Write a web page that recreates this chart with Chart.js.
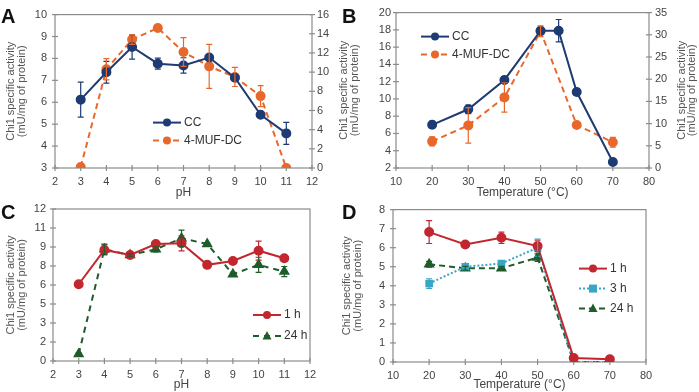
<!DOCTYPE html>
<html>
<head>
<meta charset="utf-8">
<script src="https://cdn.jsdelivr.net/npm/chart.js@4"></script>
<style>
  body { margin: 0; background: #fff; }
  #wrap { position: relative; width: 699px; height: 392px; overflow: hidden; }
  canvas { position: absolute; }
  .tag { position: absolute; font: bold 20px "Liberation Sans", Arial, sans-serif; color: #111; }
</style>
</head>
<body>
<div id="wrap">
  <canvas id="chartA" width="349" height="200" style="left:0;top:0"></canvas>
  <canvas id="chartB" width="364" height="200" style="left:335px;top:0"></canvas>
  <canvas id="chartC" width="349" height="197" style="left:0;top:195px"></canvas>
  <canvas id="chartD" width="364" height="197" style="left:335px;top:195px"></canvas>
  <div class="tag" style="left:1px;top:5px">A</div>
  <div class="tag" style="left:342px;top:5px">B</div>
  <div class="tag" style="left:1px;top:201px">C</div>
  <div class="tag" style="left:342px;top:201px">D</div>
</div>
<script>
// panel A - pH, CC (left axis) and 4-MUF-DC (right axis)
const phA = [3, 4, 5, 6, 7, 8, 9, 10, 11];
const ccA = [6.12, 7.37, 8.52, 7.76, 7.68, 8.04, 7.12, 5.43, 4.58];
const ccAErr = [0.8, 0.5, 0.55, 0.25, 0.35, 0.1, 0.1, 0.1, 0.5];
const mufA = [0.1, 10.3, 13.4, 14.6, 12.1, 10.6, 9.5, 7.5, 0];
const mufAErr = [0, 1.1, 0.5, 0.3, 1.5, 2.3, 1.0, 1.1, 0];

// panel B - temperature
const tempBcc = [20, 30, 40, 50, 55, 60, 70];
const ccB = [7.0, 8.8, 12.2, 17.9, 17.9, 10.8, 2.7];
const ccBErr = [0.4, 0.5, 0.4, 0.4, 1.3, 0.4, 0.1];
const tempBmuf = [20, 30, 40, 50, 60, 70];
const mufB = [6.0, 9.6, 15.9, 30.8, 9.7, 5.8];
const mufBErr = [1.0, 4.0, 3.3, 1.2, 0.5, 1.1];

// panel C - pH stability
const phC = [3, 4, 5, 6, 7, 8, 9, 10, 11];
const c1h = [6.06, 8.77, 8.37, 9.24, 9.29, 7.59, 7.9, 8.71, 8.11];
const c1hErr = [0.1, 0.4, 0.1, 0.15, 0.6, 0.1, 0.25, 0.75, 0.2];
const c24h = [0.55, 8.82, 8.37, 8.82, 9.69, 9.24, 6.85, 7.59, 7.06];
const c24hErr = [0.1, 0.4, 0.1, 0.2, 0.65, 0.1, 0.15, 0.6, 0.4];

// panel D - temperature stability
const tempD = [20, 30, 40, 50, 60, 70];
const d1h = [6.82, 6.17, 6.52, 6.09, 0.21, 0.14];
const d1hErr = [0.6, 0.05, 0.3, 0.3, 0.03, 0.03];
const d3h = [4.12, 5.0, 5.17, 6.0, 0, 0];
const d3hErr = [0.25, 0.1, 0.1, 0.45, 0, 0];
const d24h = [5.13, 4.92, 4.92, 5.48, 0, 0];
const d24hErr = [0.15, 0.1, 0.1, 0.2, 0, 0];

const yTitle = ["Chi1 specific activity", "(mU/mg of protein)"];
const FONT = '"Liberation Sans", Arial, sans-serif';
const NAVY = "#1f3b73", ORANGE = "#e8682c", RED = "#c2272f", GREEN = "#1f5c2c", TEAL = "#38a6c4";

function pts(xs, ys) {
  return xs.map((x, i) => ({ x: x, y: ys[i] }));
}

function series(label, xs, ys, errs, color, shape, dash, axis) {
  return {
    label: label,
    data: pts(xs, ys),
    errs: errs,
    borderColor: color,
    backgroundColor: color,
    borderWidth: 2,
    borderDash: dash,
    pointStyle: shape,
    pointRadius: shape === "triangle" ? 4.5 : 4,
    yAxisID: axis || "y",
    tension: 0,
  };
}

const decor = {
  id: "decor",
  beforeDatasetsDraw(chart) {
    const ctx = chart.ctx, a = chart.chartArea;
    ctx.save();
    ctx.strokeStyle = "#8c8c8c";
    ctx.lineWidth = 1.2;
    ctx.strokeRect(a.left, a.top, a.right - a.left, a.bottom - a.top);
    Object.values(chart.scales).forEach((s) => {
      s.ticks.forEach((t) => {
        const p = s.getPixelForValue(t.value);
        ctx.beginPath();
        if (s.axis === "x") {
          ctx.moveTo(p, a.bottom - 3); ctx.lineTo(p, a.bottom + 3);
        } else {
          const ex = s.position === "right" ? a.right : a.left;
          ctx.moveTo(ex - 3, p); ctx.lineTo(ex + 3, p);
        }
        ctx.stroke();
      });
    });
    ctx.restore();
  },
  afterDatasetsDraw(chart) {
    const ctx = chart.ctx;
    ctx.save();
    chart.data.datasets.forEach((ds) => {
      const ys = chart.scales[ds.yAxisID], xs = chart.scales.x;
      ctx.strokeStyle = ds.borderColor;
      ctx.lineWidth = 1.2;
      ds.data.forEach((d, i) => {
        const e = ds.errs[i];
        if (!e) return;
        const px = xs.getPixelForValue(d.x);
        const top = ys.getPixelForValue(d.y + e), bot = ys.getPixelForValue(d.y - e);
        ctx.beginPath();
        ctx.moveTo(px, top); ctx.lineTo(px, bot);
        ctx.moveTo(px - 3, top); ctx.lineTo(px + 3, top);
        ctx.moveTo(px - 3, bot); ctx.lineTo(px + 3, bot);
        ctx.stroke();
      });
    });
    ctx.restore();
  },
  afterDraw(chart) {
    const o = chart.options.plugins.decor;
    const ctx = chart.ctx, a = chart.chartArea;
    ctx.save();
    ctx.font = "12px " + FONT;
    ctx.textBaseline = "middle";
    chart.data.datasets.forEach((ds, i) => {
      const x0 = a.left + o.x, y = a.top + o.y + i * o.gap;
      ctx.strokeStyle = ds.borderColor;
      ctx.lineWidth = 2;
      ctx.setLineDash(ds.borderDash);
      ctx.beginPath();
      ctx.moveTo(x0, y); ctx.lineTo(x0 + 28, y);
      ctx.stroke();
      ctx.setLineDash([]);
      ctx.fillStyle = ds.borderColor;
      const cx = x0 + 14;
      ctx.beginPath();
      if (ds.pointStyle === "rect") {
        ctx.rect(cx - 4, y - 4, 8, 8);
      } else if (ds.pointStyle === "triangle") {
        ctx.moveTo(cx, y - 5); ctx.lineTo(cx + 4.5, y + 3.5); ctx.lineTo(cx - 4.5, y + 3.5); ctx.closePath();
      } else {
        ctx.arc(cx, y, 4, 0, Math.PI * 2);
      }
      ctx.fill();
      ctx.fillStyle = "#333";
      ctx.fillText(ds.label, x0 + 31, y);
    });
    // right axis title, reading bottom-to-top like the left one
    if (o.rightTitle) {
      ctx.font = "11px " + FONT;
      ctx.fillStyle = "#555";
      ctx.textAlign = "center";
      const cy = (a.top + a.bottom) / 2;
      yTitle.forEach((line, i) => {
        ctx.save();
        ctx.translate(a.right + o.rightTitle[i], cy);
        ctx.rotate(-Math.PI / 2);
        ctx.fillText(line, 0, 0);
        ctx.restore();
      });
    }
    ctx.restore();
  },
};

function axisY(min, max, step, pos, width, pad, titlePad, fmt) {
  return {
    type: "linear",
    position: pos,
    min: min,
    max: max,
    grid: { display: false, drawTicks: false },
    border: { display: false },
    ticks: {
      stepSize: step,
      padding: pad,
      color: "#444",
      font: { size: 11, family: FONT },
      callback: fmt || ((v) => v),
    },
    title: { display: pos === "left", text: yTitle, color: "#555", font: { size: 11, family: FONT, lineHeight: 1.0 }, padding: { top: titlePad, bottom: 0 } },
    afterFit(s) { s.width = width; },
  };
}

function axisX(min, max, step, label, height) {
  return {
    type: "linear",
    min: min,
    max: max,
    grid: { display: false, drawTicks: false },
    border: { display: false },
    ticks: { stepSize: step, padding: 7, color: "#444", font: { size: 11, family: FONT } },
    title: { display: true, text: label, color: "#444", font: { size: 12, family: FONT, lineHeight: 1.0 }, padding: { top: 0, bottom: 1 } },
    afterFit(s) { s.height = height; },
  };
}

function makeChart(id, datasets, scales, pad, legend) {
  new Chart(document.getElementById(id), {
    type: "line",
    data: { datasets: datasets },
    options: {
      responsive: false,
      animation: false,
      layout: { padding: pad },
      scales: scales,
      plugins: { legend: { display: false }, tooltip: { enabled: false }, decor: legend },
    },
    plugins: [decor],
  });
}

// A
makeChart("chartA",
  [
    series("CC", phA, ccA, ccAErr, NAVY, "circle", [], "y"),
    series("4-MUF-DC", phA, mufA, mufAErr, ORANGE, "circle", [6, 4], "y2"),
  ],
  { x: axisX(2, 12, 1, "pH", 32), y: axisY(3, 10, 1, "left", 55, 8, 5), y2: axisY(0, 16, 2, "right", 37, 5, 0) },
  { top: 10, left: 0, right: 0, bottom: 0 },
  { x: 98, y: 108, gap: 18 });

// B
makeChart("chartB",
  [
    series("CC", tempBcc, ccB, ccBErr, NAVY, "circle", [], "y"),
    series("4-MUF-DC", tempBmuf, mufB, mufBErr, ORANGE, "circle", [6, 4], "y2"),
  ],
  { x: axisX(10, 80, 10, "Temperature (°C)", 32), y: axisY(2, 20, 2, "left", 61, 5, 3), y2: axisY(0, 35, 5, "right", 50, 6, 0) },
  { top: 12, left: 0, right: 0, bottom: 0 },
  { x: 25, y: 24, gap: 18, rightTitle: [33, 43] });

// C
makeChart("chartC",
  [
    series("1 h", phC, c1h, c1hErr, RED, "circle", [], "y"),
    series("24 h", phC, c24h, c24hErr, GREEN, "triangle", [6, 5], "y"),
  ],
  { x: axisX(2, 12, 1, "pH", 31), y: axisY(0, 12, 1.5, "left", 53, 7, 5, (v) => Math.round(v)) },
  { top: 14, left: 0, right: 39, bottom: 0 },
  { x: 200, y: 106, gap: 21 });

// D
makeChart("chartD",
  [
    series("1 h", tempD, d1h, d1hErr, RED, "circle", [], "y"),
    series("3 h", tempD, d3h, d3hErr, TEAL, "rect", [2, 2], "y"),
    series("24 h", tempD, d24h, d24hErr, GREEN, "triangle", [6, 4], "y"),
  ],
  { x: axisX(10, 80, 10, "Temperature (°C)", 30), y: axisY(0, 8, 1, "left", 58, 8, 6) },
  { top: 13, left: 0, right: 53, bottom: 0 },
  { x: 186, y: 59, gap: 20 });
</script>
</body>
</html>
